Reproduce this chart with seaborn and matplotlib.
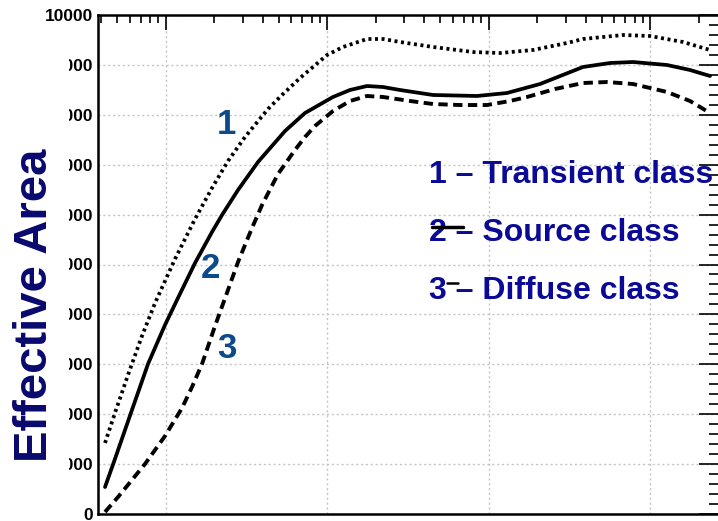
import numpy as np
import pandas as pd
import matplotlib
matplotlib.use("Agg")
import matplotlib.pyplot as plt
from matplotlib.patches import Rectangle
from matplotlib.ticker import MultipleLocator, LogLocator, NullFormatter, FixedLocator
import seaborn as sns

# Energy (MeV) and effective area (cm^2) for the three event classes
transient_energy = [42.1, 48.5, 58.4, 71.3, 85.9, 99.0, 114.2, 151.9, 193.5, 243.1, 309.7,
                    430.0, 525.0, 678.6, 997.2, 1252, 1764, 2216, 2824, 4520, 7996, 11750,
                    18810, 30530, 38360, 67860, 99720, 159600, 234600]
transient_area = [1423, 2024, 2786, 3567, 4228, 4669, 5110, 5912, 6533, 7074, 7555,
                  8116, 8397, 8737, 9198, 9359, 9519, 9519, 9459, 9359, 9258, 9238,
                  9299, 9439, 9519, 9599, 9579, 9459, 9299]

source_energy = [42.1, 48.5, 61.8, 77.7, 99.0, 117.5, 151.9, 193.5, 223.2, 280.4, 372.9,
                 548.0, 728.7, 1086, 1384, 1764, 2216, 2824, 4520, 8465, 12980, 20780,
                 38360, 56380, 78260, 127100, 176400, 234600]
source_area = [541, 1102, 2084, 3006, 3788, 4289, 5030, 5651, 5992, 6493, 7054,
               7675, 8036, 8357, 8497, 8577, 8557, 8497, 8397, 8377, 8437, 8617,
               8958, 9038, 9058, 8998, 8898, 8778]

diffuse_energy = [42.1, 50.7, 74.4, 99.0, 126.2, 145.5, 167.8, 202.0, 243.1, 280.4, 342.2,
                  394.8, 496.0, 631.8, 728.7, 840.5, 1086, 1384, 1764, 2216, 3256, 4520,
                  6644, 9761, 13550, 17270, 25740, 38360, 54020, 78260, 127100, 176400, 234600]
diffuse_area = [40, 341, 1002, 1563, 2124, 2545, 3006, 3768, 4489, 5050, 5731,
                6192, 6814, 7295, 7555, 7776, 8076, 8277, 8377, 8357, 8277, 8216,
                8196, 8196, 8277, 8357, 8517, 8637, 8657, 8617, 8457, 8277, 8036]

y_ticks = [0, 1000, 2000, 3000, 4000, 5000, 6000, 7000, 8000, 9000, 10000]
y_tick_labels = ["0", "1000", "2000", "3000", "4000", "5000", "6000", "7000", "8000", "9000", "10000"]
legend_labels = ["1 \u2013 Transient class", "2 \u2013 Source class", "3 \u2013 Diffuse class"]
curve_numbers = ["1", "2", "3"]

sns.set_style("white")
plt.rcParams["font.family"] = ["Liberation Sans", "DejaVu Sans"]

fig = plt.figure(figsize=(7.18, 5.21), dpi=100)
W, H = 718, 521
ax = fig.add_axes([98 / W, (H - 514) / H, (719 - 98) / W, (514 - 15) / H])

df_t = pd.DataFrame({"energy": transient_energy, "area": transient_area})
df_s = pd.DataFrame({"energy": source_energy, "area": source_area})
df_d = pd.DataFrame({"energy": diffuse_energy, "area": diffuse_area})

sns.lineplot(data=df_t, x="energy", y="area", ax=ax, color="black", lw=2.7,
             linestyle=(0, (0.8, 0.95)), sort=True, zorder=4)
sns.lineplot(data=df_s, x="energy", y="area", ax=ax, color="black", lw=2.7,
             linestyle="-", sort=True, zorder=4)
sns.lineplot(data=df_d, x="energy", y="area", ax=ax, color="black", lw=2.8,
             linestyle=(0, (2.4, 1.4)), sort=True, zorder=4)
for ln in ax.get_lines():
    ln.set_solid_joinstyle("round")
    ln.set_dash_joinstyle("round")

ax.set_xscale("log")
x_lo = 10 ** (2 + (98 - 165.7) / 161.5)
x_hi = 10 ** (2 + (719 - 165.7) / 161.5)
ax.set_xlim(x_lo, x_hi)
ax.set_ylim(0, 10000)

ax.yaxis.set_major_locator(FixedLocator(y_ticks))
ax.set_yticklabels(y_tick_labels)
ax.yaxis.set_minor_locator(MultipleLocator(200))
ax.xaxis.set_major_locator(LogLocator(base=10, numticks=20))
ax.xaxis.set_minor_locator(LogLocator(base=10, subs=np.arange(2, 10), numticks=20))
ax.xaxis.set_major_formatter(NullFormatter())
ax.xaxis.set_minor_formatter(NullFormatter())

ax.tick_params(axis="both", which="both", direction="in", top=True, right=True,
               color="black", width=1.2)
ax.tick_params(axis="y", which="major", length=14.5, pad=3.5,
               labelsize=12.5, labelcolor="black")
ax.tick_params(axis="y", which="minor", length=7.2)
ax.tick_params(axis="x", which="major", length=10.5)
ax.tick_params(axis="x", which="minor", length=5.5)
for lab in ax.get_yticklabels():
    lab.set_fontweight("bold")

ax.grid(True, which="major", color="#c4c4c4", lw=1.0, linestyle=(0, (1.5, 2.0)))
for sp in ax.spines.values():
    sp.set_color("black")
    sp.set_linewidth(1.8)
ax.set_xlabel("")
ax.set_ylabel("")

# Curve numbers
num_color = "#0c4a8a"
num_pos = [(226, 125), (210, 268), (227, 348)]
for txt, (px, py) in zip(curve_numbers, num_pos):
    fig.text(px / W, 1 - py / H, txt, color=num_color, fontsize=25, fontweight="bold",
             ha="center", va="center", zorder=6)

# Class labels
leg_color = "#0a0a96"
leg_y = [175, 233, 291]
for txt, py in zip(legend_labels, leg_y):
    fig.text(429 / W, 1 - py / H, txt, color=leg_color, fontsize=23, fontweight="bold",
             ha="left", va="center", zorder=6)

# Line samples beside the class labels
fig.add_artist(plt.Line2D([432 / W, 463 / W], [1 - 227 / H, 1 - 227 / H],
                          color="black", lw=2.5, zorder=7))
fig.add_artist(plt.Line2D([447 / W, 458 / W], [1 - 283 / H, 1 - 283 / H],
                          color="black", lw=1.8, zorder=7))

# Y-axis title panel
fig.add_artist(Rectangle((0, 0), 69 / W, 1 - 36 / H, transform=fig.transFigure,
                         facecolor="white", edgecolor="none", zorder=5))
fig.text(35 / W, 1 - 305 / H, "Effective Area", rotation=90, color="#08086e",
         fontsize=34, fontweight="bold", ha="center", va="center", zorder=6)

fig.savefig("out.png", dpi=100)
